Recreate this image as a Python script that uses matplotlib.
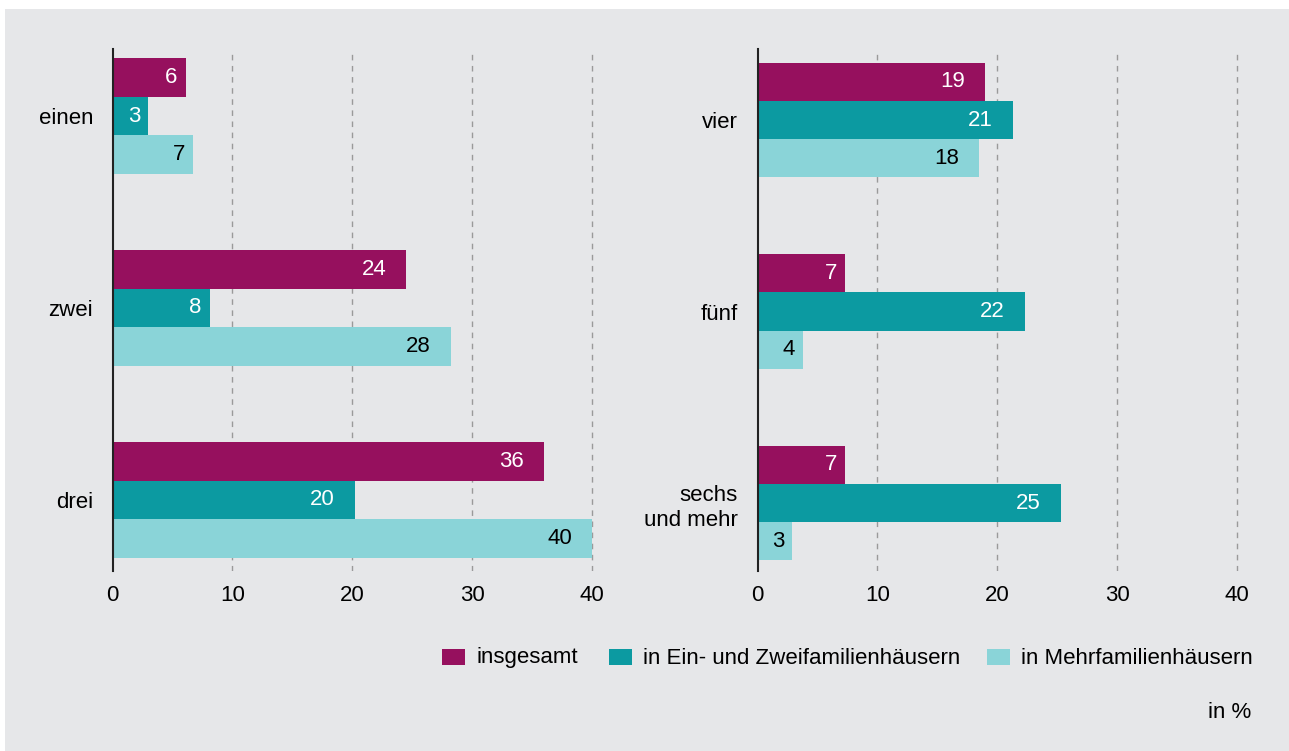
import matplotlib
matplotlib.use("Agg")
import matplotlib.pyplot as plt
from matplotlib.patches import Rectangle

plt.rcParams['font.family'] = ['Liberation Sans', 'DejaVu Sans']

W, H = 1289, 751

series = ["insgesamt", "in Ein- und Zweifamilienhäusern", "in Mehrfamilienhäusern"]
colors = ["#96105E", "#0C9AA1", "#8AD4D8"]
label_colors = ["white", "white", "black"]

left_cats = ["einen", "zwei", "drei"]
left_vals = [
    [6.1, 24.5, 36.0],   # insgesamt
    [3.0, 8.1, 20.2],    # Ein-/Zweifamilienhäuser
    [6.7, 28.2, 40.0],   # Mehrfamilienhäuser
]
left_labels = [
    [6, 24, 36],
    [3, 8, 20],
    [7, 28, 40],
]

right_cats = ["vier", "fünf", "sechs\nund mehr"]
right_vals = [
    [19.0, 7.3, 7.3],
    [21.3, 22.3, 25.3],
    [18.5, 3.8, 2.9],
]
right_labels = [
    [19, 7, 7],
    [21, 22, 25],
    [18, 4, 3],
]

xticks = [0, 10, 20, 30, 40]

fig = plt.figure(figsize=(W / 100, H / 100), dpi=100)
fig.patch.set_facecolor("white")
fig.add_artist(Rectangle((5 / W, 0), 1 - 5 / W, 1 - 9 / H, transform=fig.transFigure,
                         facecolor="#E6E7E9", edgecolor="none", zorder=-10))

FS = 16
bar_h = 0.2


def px_box(x0, x1, ytop, ybot):
    return [x0 / W, 1 - ybot / H, (x1 - x0) / W, (ybot - ytop) / H]


def draw_panel(rect, cats, vals, labels, ylim):
    ax = fig.add_axes(rect)
    ax.set_facecolor("none")
    ax.set_xlim(0, 40.15)
    ax.set_ylim(*ylim)
    for s in range(3):
        ys = [i + (s - 1) * bar_h for i in range(len(cats))]
        ax.barh(ys, vals[s], height=bar_h, color=colors[s], zorder=3)
        for y, v, lab in zip(ys, vals[s], labels[s]):
            txt = str(lab)
            pad = 8 if len(txt) == 1 else 20
            ax.annotate(txt, (v, y), xytext=(-pad, 0), textcoords="offset pixels",
                        ha="right", va="center", color=label_colors[s], fontsize=FS, zorder=4)
    for x in xticks[1:]:
        ax.axvline(x, color="#9a9a9a", lw=1.0, ls=(0, (4, 4)), zorder=1)
    ax.set_xticks(xticks)
    ax.set_xticklabels([str(t) for t in xticks], fontsize=FS)
    ax.tick_params(axis="x", length=0, pad=10)
    ax.set_yticks(range(len(cats)))
    ax.set_yticklabels(cats, fontsize=FS, linespacing=1.25)
    ax.tick_params(axis="y", length=0, pad=14)
    for lab in ax.get_yticklabels():
        lab.set_horizontalalignment("right")
    for sp in ["top", "right", "bottom"]:
        ax.spines[sp].set_visible(False)
    ax.spines["left"].set_color("#222222")
    ax.spines["left"].set_linewidth(1.5)
    ax.spines["left"].set_zorder(5)
    return ax


draw_panel(px_box(112.5, 594, 49, 571), left_cats, left_vals, left_labels, (2.37, -0.349))
draw_panel(px_box(757.5, 1239, 49, 571), right_cats, right_vals, right_labels, (2.355, -0.371))

# legend
sq_x = [442, 609, 987]
for x, c, name in zip(sq_x, colors, series):
    fig.add_artist(Rectangle((x / W, 1 - 665 / H), 23 / W, 16 / H, transform=fig.transFigure,
                             facecolor=c, edgecolor="none"))
    fig.text((x + 34) / W, 1 - 658 / H, name, ha="left", va="center", fontsize=FS)

fig.text(1251 / W, 1 - 713 / H, "in %", ha="right", va="center", fontsize=FS)

fig.savefig("out.png", dpi=100)
